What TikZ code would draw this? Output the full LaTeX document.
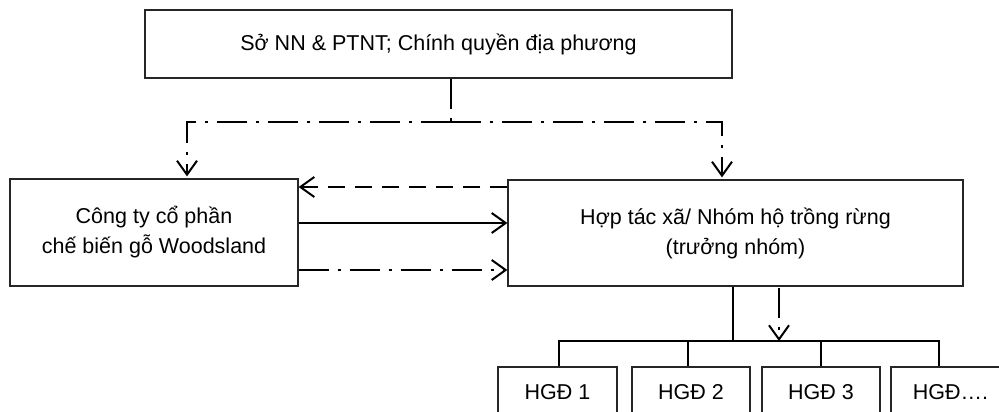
\documentclass[tikz,border=0pt]{standalone}
\usepackage{fontspec}
\setmainfont{Liberation Sans}
\usetikzlibrary{arrows.meta}
\begin{document}
\begin{tikzpicture}[x=1pt,y=-1pt,
  box/.style={draw=black!85,line width=1.2pt,rectangle,inner sep=0pt,align=center,
     font=\fontsize{21.5}{30}\selectfont},
  conn/.style={line width=2pt},
  dd/.style={conn,dash pattern=on 30pt off 9pt on 3pt off 9pt},
  dsh/.style={conn,dash pattern=on 17pt off 10pt},
  tip/.style={-{Straight Barb[length=14pt,width=20pt,line width=2pt]}}
]
\useasboundingbox (0,0) rectangle (999,412);
\clip (0,0) rectangle (999,412);
\node[box,minimum width=587pt,minimum height=68pt] (top) at (438.5,44) {Sở NN \& PTNT; Chính quyền địa phương};
\node[box,minimum width=288pt,minimum height=107pt] (left) at (154,232.5) {Công ty cổ phần\\chế biến gỗ Woodsland};
\node[box,minimum width=455pt,minimum height=106pt] (right) at (735.5,233) {Hợp tác xã/ Nhóm hộ trồng rừng\\(trưởng nhóm)};
\node[box,minimum width=119pt,minimum height=50pt] (b1) at (557.5,392) {HGĐ 1};
\node[box,minimum width=118pt,minimum height=50pt] (b2) at (691,392) {HGĐ 2};
\node[box,minimum width=118pt,minimum height=50pt] (b3) at (821,392) {HGĐ 3};
\node[box,minimum width=119pt,minimum height=50pt] (b4) at (950.5,392) {HGĐ….};
% top distribution
\coordinate (hub) at (451,122);
\draw[dd] ([xshift=12.5pt]top.south) -- (hub);
\draw[dd,tip] (hub) -| ([xshift=33pt,yshift=2pt]left.north);
\draw[dd,tip] (hub) -| ([xshift=-13.5pt,yshift=2pt]right.north);
% between left and right
\draw[dsh,tip] ([yshift=46pt]right.west) -- ([yshift=45.5pt]left.east);
\draw[conn,tip] ([yshift=9.5pt]left.east) -- ([yshift=10pt]right.west);
\draw[dd,tip] ([yshift=-37.5pt]left.east) -- ([yshift=-37pt]right.west);
% bottom tree
\coordinate (bus) at (733,341);
\draw[line width=1.3pt] ([xshift=-2.5pt]right.south) -- (bus);
\draw[line width=1.3pt] (bus) -| ([xshift=1.5pt]b1.north);
\draw[line width=1.3pt] (bus) -| ([xshift=-3pt]b2.north);
\draw[line width=1.3pt] (bus) -| (b3.north);
\draw[line width=1.3pt] (bus) -| ([xshift=-11.5pt]b4.north);
\draw[dd,tip] ([xshift=43.5pt,yshift=-1pt]right.south) -- ([xshift=43.5pt]right.south |- bus);
\end{tikzpicture}
\end{document}
